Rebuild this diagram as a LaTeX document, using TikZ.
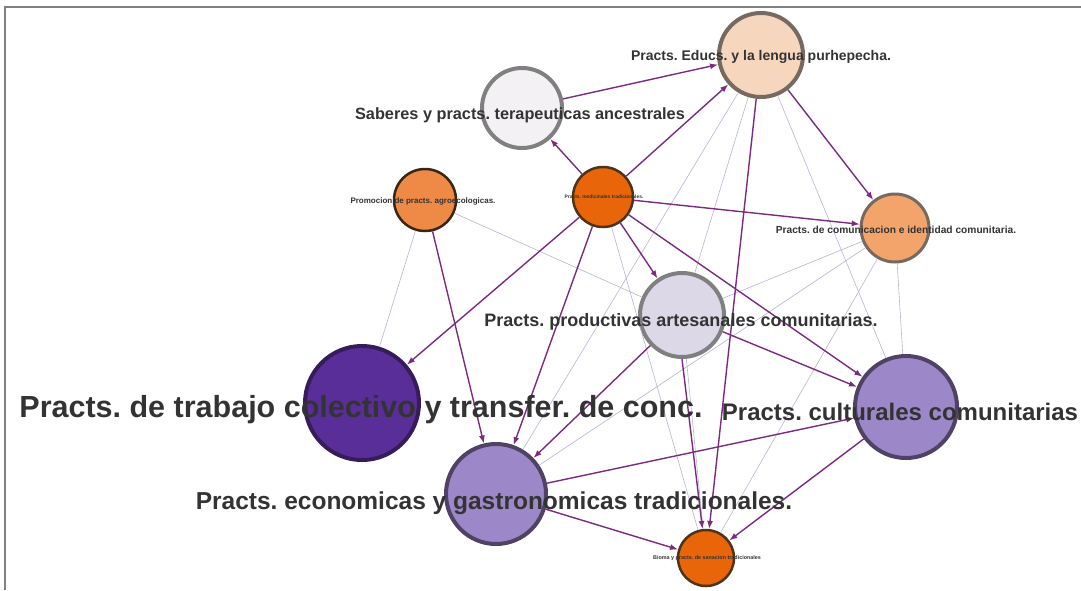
\documentclass[tikz,border=0pt]{standalone}
\usepackage{fontspec}
\setmainfont{Liberation Sans}
\usetikzlibrary{arrows.meta}
\definecolor{hubor}{HTML}{E8650A}
\definecolor{midor}{HTML}{EE8A45}
\definecolor{lightor}{HTML}{F2A46A}
\definecolor{peach}{HTML}{F7D6BE}
\definecolor{pale}{HTML}{F3F1F4}
\definecolor{lav}{HTML}{DCD8E8}
\definecolor{midpurple}{HTML}{9C87C8}
\definecolor{darkpurple}{HTML}{5A2E98}
\definecolor{linkpurple}{HTML}{7A2A80}
\definecolor{tiegray}{HTML}{B9B2D2}
\definecolor{ringgray}{HTML}{76695F}
\frenchspacing
\begin{document}
\begin{tikzpicture}[%
        x=1pt, y=-1pt,%
        practica/.style={%
            circle,%
            inner sep=0pt,%
            line width=4pt%
        },%
        rotulo/.style={%
            font=\bfseries,%
            text=black!80,%
            inner sep=0pt%
        },%
        flujo/.style={%
            draw=linkpurple,%
            line width=1.4pt,%
            -{Latex[length=8pt,width=6pt]}%
        },%
        lazo/.style={%
            draw=tiegray,%
            line width=.6pt%
        }%
    ]
    \useasboundingbox (0,0) rectangle (1081,590);
    \draw [black!50,line width=1.5pt] (5,590)--(5,7)--(1081,7);
    % circulos
    \node (educ) at (761,55) [practica,minimum size=84pt,draw=ringgray,fill=peach]{};
    \node (saberes) at (522,108) [practica,minimum size=80pt,draw=black!50,fill=pale]{};
    \node (promo) at (425,200) [practica,minimum size=62pt,line width=2.5pt,draw=black!70!brown,fill=midor]{};
    \node (hub) at (603,197) [practica,minimum size=60pt,line width=2.5pt,draw=black!60!brown,fill=hubor]{};
    \node (comun) at (895,228) [practica,minimum size=68pt,line width=3pt,draw=ringgray,fill=lightor]{};
    \node (produc) at (682,315) [practica,minimum size=84pt,draw=black!50,fill=lav]{};
    \node (trabajo) at (362,403) [practica,minimum size=114pt,draw=darkpurple!60!black,fill=darkpurple]{};
    \node (cultur) at (906,407) [practica,minimum size=102pt,draw=darkpurple!40!black!80,fill=midpurple]{};
    \node (econ) at (496,494) [practica,minimum size=100pt,draw=darkpurple!40!black!80,fill=midpurple]{};
    \node (medic) at (706,558) [practica,minimum size=56pt,line width=2.5pt,draw=black!60!brown,fill=hubor]{};
    % lazos
    \draw [lazo] (promo) -- (trabajo);
    \draw [lazo] (promo) -- (produc);
    \draw [lazo] (educ) -- (produc);
    \draw [lazo] (educ) -- (cultur);
    \draw [lazo] (educ) -- (econ);
    \draw [lazo] (comun) -- (produc);
    \draw [lazo] (comun) -- (econ);
    \draw [lazo] (comun) -- (cultur);
    \draw [lazo] (comun) -- (medic);
    \draw [lazo] (hub) -- (medic);
    \draw [lazo] (produc) -- (medic);
    % flujos
    \draw [flujo] (hub) -- (saberes);
    \draw [flujo] (hub) -- (educ);
    \draw [flujo] (saberes) -- (educ);
    \draw [flujo] (hub) -- (comun);
    \draw [flujo] (educ) -- (comun);
    \draw [flujo] (hub) -- (produc);
    \draw [flujo] (hub) -- (trabajo);
    \draw [flujo] (hub) -- (econ);
    \draw [flujo] (hub) -- (cultur);
    \draw [flujo] (promo) -- (econ);
    \draw [flujo] (educ) -- (medic);
    \draw [flujo] (produc) -- (econ);
    \draw [flujo] (produc) -- (cultur);
    \draw [flujo] (produc.south) -- (medic);
    \draw [flujo] (econ) -- (medic);
    \draw [flujo] (cultur) -- (medic);
    \draw [flujo] (econ) -- (cultur);
    % rotulos
    \node (reduc) at (761,57) [rotulo,font=\fontsize{14}{16}\bfseries]{Practs. Educs. y la lengua purhepecha.};
    \node (rsaberes) at (520,115) [rotulo,font=\fontsize{16.3}{18}\bfseries]{Saberes y practs. terapeuticas ancestrales};
    \node (rpromo) at (423,201) [rotulo,font=\fontsize{8}{9}\bfseries]{Promocion de practs. agroecologicas.};
    \node (rhub) at (604,197) [rotulo,font=\fontsize{4.9}{5}\bfseries]{Practs. medicinales tradicionales.};
    \node (rcomun) at (896,230) [rotulo,font=\fontsize{10.2}{11}\bfseries]{Practs. de comunicacion e identidad comunitaria.};
    \node (rproduc) at (681,322) [rotulo,font=\fontsize{18}{20}\bfseries]{Practs. productivas artesanales comunitarias.};
    \node (rtrabajo) at (361,410) [rotulo,font=\fontsize{30.5}{33}\bfseries]{Practs. de trabajo colectivo y transfer. de conc.};
    \node (rcultur) at (900,412) [rotulo,font=\fontsize{24}{26}\bfseries]{Practs. culturales comunitarias};
    \node (recon) at (494,503) [rotulo,font=\fontsize{24.5}{27}\bfseries]{Practs. economicas y gastronomicas tradicionales.};
    \node (rmedic) at (707,558) [rotulo,font=\fontsize{5.4}{6}\bfseries]{Bioma y practs. de sanacion tradicionales};
\end{tikzpicture}
\end{document}
